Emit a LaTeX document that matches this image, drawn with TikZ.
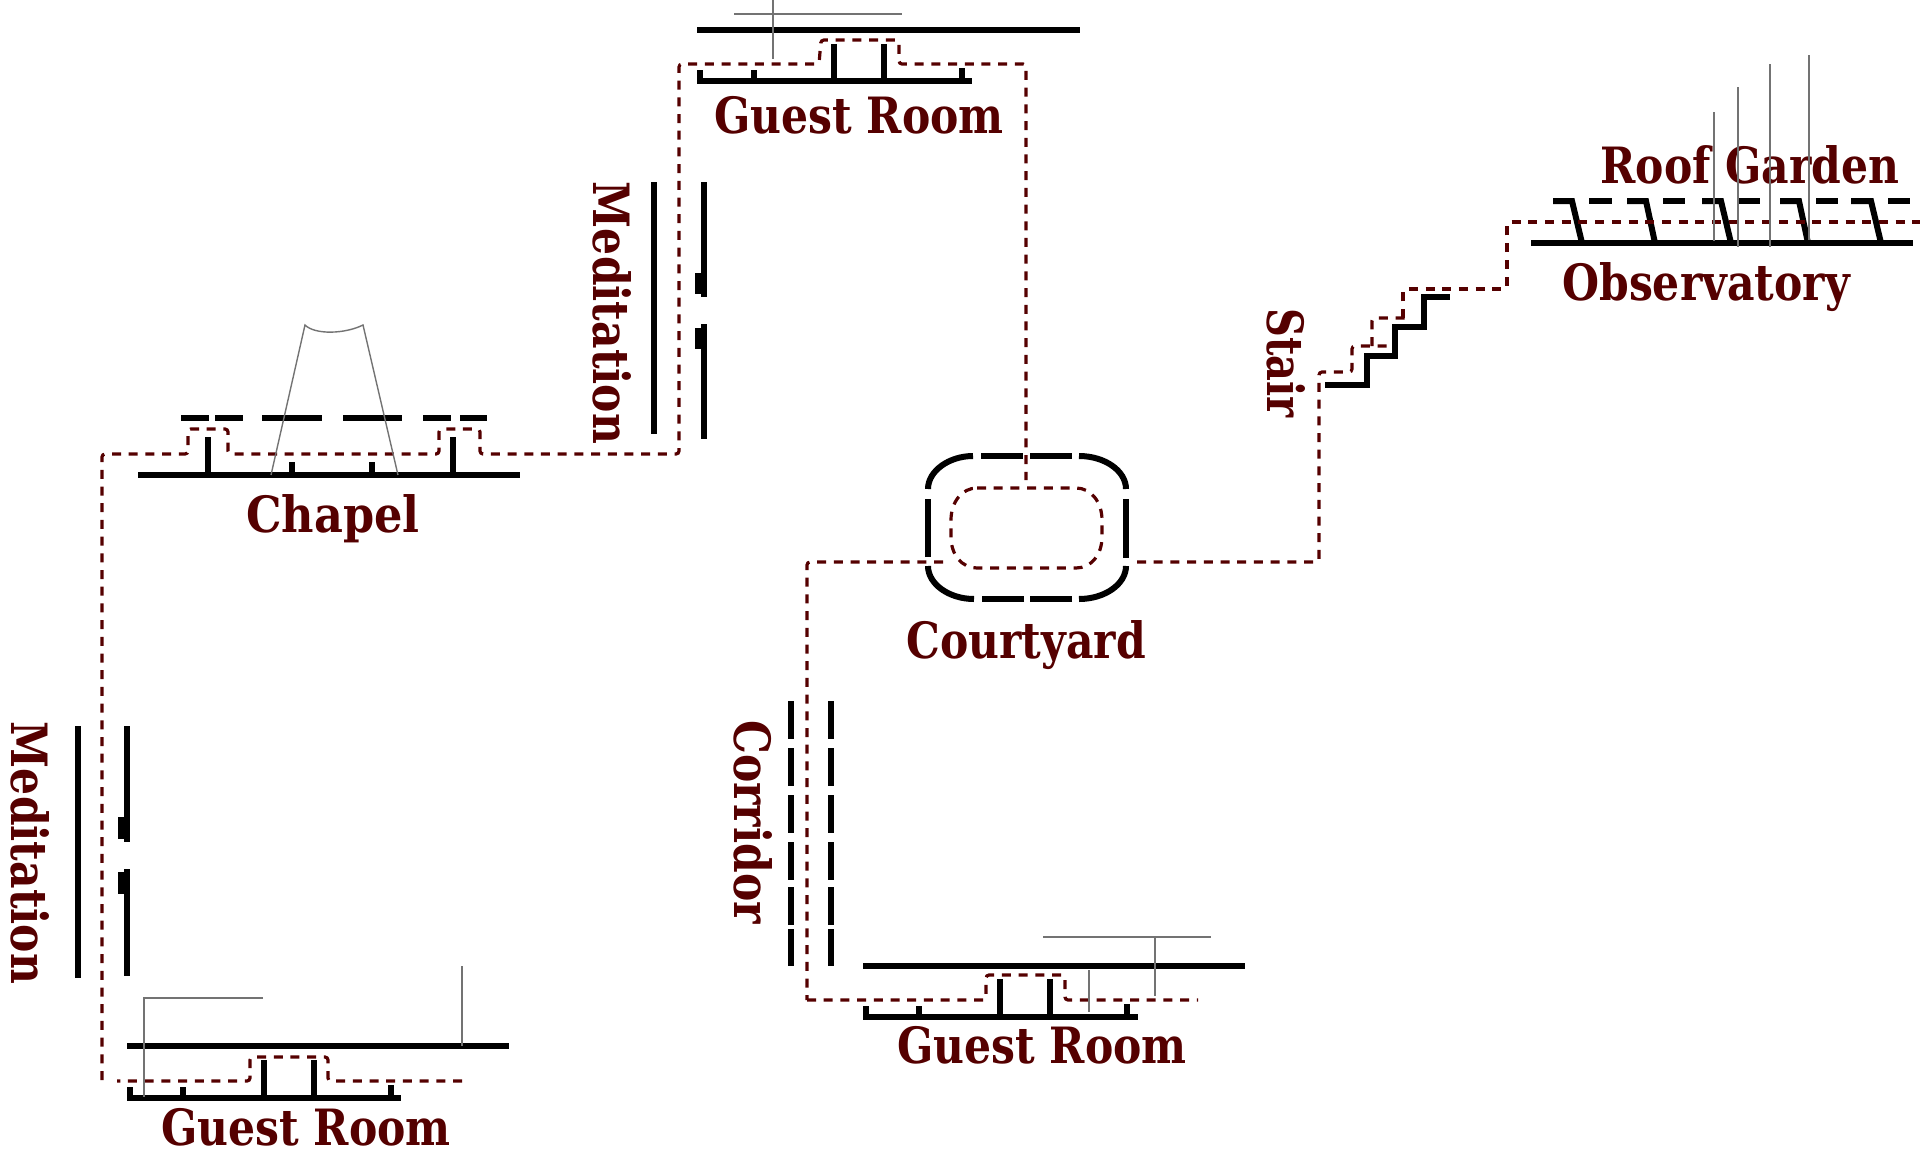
\documentclass[tikz,border=0pt]{standalone}
\usepackage{fontspec}
\newfontfamily\lab[FakeStretch=0.85]{DejaVu Serif}
\definecolor{wine}{HTML}{550000}
\tikzset{
 wall/.style={draw=black,line width=6pt},
 route/.style={draw=wine,line width=3.2pt,dash pattern=on 9pt off 7.7pt,rounded corners=3pt},
 sight/.style={draw=black!55,line width=1.4pt},
 lbl/.style={text=wine,font=\lab\bfseries\fontsize{50}{50}\selectfont,inner sep=0pt,anchor=base}
}
\begin{document}
\begin{tikzpicture}[x=1pt,y=-1pt]
\useasboundingbox (0,0) rectangle (1920,1157);
% Guest Room top
\draw[wall] (697,30) -- (1080,30);
\draw[wall] (697,81) -- (972,81);
\draw[wall] (700,81) -- (700,70);
\draw[wall] (754,81) -- (754,70);
\draw[wall] (834,81) -- (834,44);
\draw[wall] (884,81) -- (884,44);
\draw[wall] (962,81) -- (962,68);
% Meditation upper
\draw[wall] (654,182) -- (654,434);
\draw[wall] (704,182) -- (704,297);
\draw[wall] (698,273) -- (698,294);
\draw[wall] (704,324) -- (704,439);
\draw[wall] (698,328) -- (698,349);
% Chapel
\draw[wall] (138,475) -- (520,475);
\foreach \a/\b in {181/209,215/243,262/322,343/402,423/451,460/487}
  \draw[wall] (\a,418) -- (\b,418);
\draw[wall] (208,475) -- (208,437);
\draw[wall] (292,475) -- (292,462);
\draw[wall] (372,475) -- (372,462);
\draw[wall] (453,475) -- (453,437);
% Meditation lower
\draw[wall] (78,726) -- (78,978);
\draw[wall] (127,726) -- (127,842);
\draw[wall] (121,817) -- (121,839);
\draw[wall] (127,869) -- (127,976);
\draw[wall] (121,872) -- (121,894);
% Guest Room lower left
\draw[wall] (127,1046) -- (509,1046);
\draw[wall] (127,1098) -- (401,1098);
\draw[wall] (130,1098) -- (130,1087);
\draw[wall] (183,1098) -- (183,1087);
\draw[wall] (264,1098) -- (264,1060);
\draw[wall] (314,1098) -- (314,1060);
\draw[wall] (391,1098) -- (391,1085);
% Corridor
\foreach \a/\b in {701/739,748/786,795/833,842/880,887/925,929/966}{
  \draw[wall] (791,\a) -- (791,\b);
  \draw[wall] (831,\a) -- (831,\b);
}
% Guest Room lower centre
\draw[wall] (863,966) -- (1245,966);
\draw[wall] (863,1017) -- (1138,1017);
\draw[wall] (866,1017) -- (866,1006);
\draw[wall] (919,1017) -- (919,1006);
\draw[wall] (1000,1017) -- (1000,979);
\draw[wall] (1050,1017) -- (1050,979);
\draw[wall] (1127,1017) -- (1127,1004);
% Courtyard
\draw[wall] (928,489) .. controls (928,471) and (949,456) .. (973,456);
\draw[wall] (981,456) -- (1023,456);
\draw[wall] (1030,456) -- (1072,456);
\draw[wall] (1079,456) .. controls (1105,456) and (1126,471) .. (1126,489);
\draw[wall] (1126,499) -- (1126,558);
\draw[wall] (1126,566) .. controls (1126,584) and (1105,599) .. (1079,599);
\draw[wall] (1072,599) -- (1030,599);
\draw[wall] (1024,599) -- (982,599);
\draw[wall] (974,599) .. controls (949,599) and (928,584) .. (928,566);
\draw[wall] (928,557) -- (928,499);
% Stair
\draw[wall,line join=miter] (1325,385) -- (1367,385) -- (1367,356) -- (1395,356) -- (1395,327) -- (1424,327) -- (1424,297) -- (1450,297);
% Observatory
\draw[wall] (1531,243) -- (1913,243);
\foreach \a/\b/\c in {1553/1572/1582,1627/1646/1655,1702/1721/1731,1780/1799/1808,1851/1871/1881}
  \draw[wall,line join=miter] (\a,201) -- (\b,201) -- (\c,243);
\foreach \a/\b in {1589/1612,1663/1685,1738/1760,1816/1838,1888/1910}
  \draw[wall] (\a,201) -- (\b,201);
% Labels
\node[lbl] (g1) at (859,133) {Guest Room};
\node[lbl] (g2) at (306,1145) {Guest Room};
\node[lbl] (g3) at (1042,1063) {Guest Room};
\node[lbl] (ch) at (333,532) {\scalebox{1.05}[1]{Chapel}};
\node[lbl] (co) at (1026,658) {Courtyard};
\node[lbl] (ob) at (1706,300) {Observatory};
\node[lbl] (rg) at (1750,183) {Roof Garden};
\node[lbl,rotate=-90] (m1) at (593,313) {Meditation};
\node[lbl,rotate=-90] (m2) at (12,853) {Meditation};
\node[lbl,rotate=-90] (cr) at (734,822) {Corridor};
\node[lbl,rotate=-90] (st) at (1267,363) {\scalebox{0.94}[1]{Stair}};
% Route
\draw[route] (462,1081) -- (328,1081) -- (328,1057) -- (250,1057) -- (250,1081) -- (117,1081);
\draw[route] (102,1080) -- (102,454) -- (188,454) -- (188,429) -- (228,429) -- (228,454) -- (439,454) -- (439,429) -- (480,429) -- (480,454) -- (679,454) -- (679,64) -- (819,64) -- (821,40) -- (899,40) -- (899,64) -- (1026,64) -- (1026,480);
\draw[route] (943,562) -- (807,562) -- (807,1000);
\draw[route] (807,1000) -- (986,1000) -- (986,975) -- (1065,975) -- (1065,1000) -- (1198,1000);
\draw[route,rounded corners=0pt] (977,488) -- (1076,488) .. controls (1091,488) and (1102,502) .. (1102,520) -- (1102,537) .. controls (1102,555) and (1091,568) .. (1076,568) -- (977,568) .. controls (962,568) and (951,555) .. (951,537) -- (951,520) .. controls (951,502) and (962,488) .. (977,488) -- cycle;
\draw[route] (1137,562) -- (1319,562) -- (1319,372) -- (1352,372) -- (1352,346) -- (1387,346);
\draw[route] (1372,346) -- (1372,318) -- (1408,318);
\draw[route] (1403,318) -- (1403,289) -- (1507,289) -- (1507,222) -- (1920,222);
% Sight lines
\draw[sight] (734,14) -- (902,14);
\draw[sight] (773,0) -- (773,59);
\draw[sight] (271,475) -- (305,325) .. controls (315,335) and (345,334) .. (363,325) -- (398,475);
\draw[sight] (263,998) -- (144,998) -- (144,1097);
\draw[sight] (462,966) -- (462,1046);
\draw[sight] (1043,937) -- (1211,937);
\draw[sight] (1155,937) -- (1155,996);
\draw[sight] (1089,970) -- (1089,1012);
\draw[sight] (1714,112) -- (1714,241);
\draw[sight] (1738,87) -- (1738,247);
\draw[sight] (1770,64) -- (1770,247);
\draw[sight] (1809,55) -- (1809,240);
\end{tikzpicture}
\end{document}
